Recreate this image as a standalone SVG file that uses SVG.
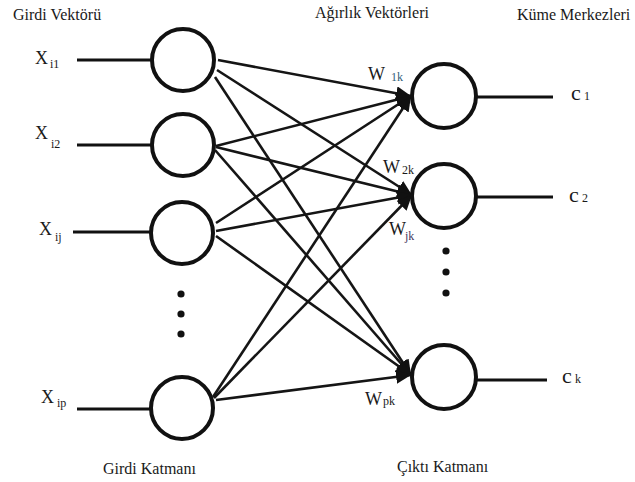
<svg xmlns="http://www.w3.org/2000/svg" width="635" height="482" viewBox="0 0 635 482">
  <style>
    text { font-family: 'Liberation Serif', 'DejaVu Serif', 'Times New Roman', serif; fill: #1a1a1a; }
    .title { font-size: 16px; }
    .big { font-size: 18px; }
    .sub { font-size: 12px; }
    .c { font-size: 22px; }
    .neuron { fill: #ffffff; stroke: #111111; stroke-width: 4; }
    .lead { stroke: #111111; stroke-width: 3; fill: none; }
    .edge { stroke: #151515; stroke-width: 2.6; fill: none; marker-end: url(#arrow); }
    .dot { fill: #111111; }
  </style>
  <defs>
    <marker id="arrow" markerUnits="userSpaceOnUse" markerWidth="16" markerHeight="14" refX="15" refY="7" orient="auto">
      <path d="M0,0 L15,7 L0,14 z" fill="#111111"/>
    </marker>
  </defs>

  <rect width="635" height="482" fill="#ffffff"/>

  <g font-family="Liberation Serif, DejaVu Serif, serif">
  <!-- layer captions -->
  <text class="title" x="13" y="20">Girdi Vektörü</text>
  <text class="title" x="315" y="18">Ağırlık Vektörleri</text>
  <text class="title" x="517" y="20">Küme Merkezleri</text>
  <text class="title" x="103" y="474">Girdi Katmanı</text>
  <text class="title" x="397" y="472">Çıktı Katmanı</text>

  <!-- weighted connections, input layer to output layer -->
  <g id="connectors">
    <line class="edge" x1="218" y1="60" x2="411" y2="96"/>
    <line class="edge" x1="217" y1="70" x2="412" y2="195"/>
    <line class="edge" x1="215" y1="77" x2="411" y2="375"/>

    <line class="edge" x1="216" y1="146" x2="411" y2="96"/>
    <line class="edge" x1="216" y1="147" x2="412" y2="195"/>
    <line class="edge" x1="215" y1="150" x2="411" y2="375"/>

    <line class="edge" x1="216" y1="223" x2="411" y2="96"/>
    <line class="edge" x1="216" y1="231" x2="412" y2="195"/>
    <line class="edge" x1="216" y1="236" x2="411" y2="375"/>

    <line class="edge" x1="213" y1="397" x2="411" y2="96"/>
    <line class="edge" x1="214" y1="398" x2="412" y2="195"/>
    <line class="edge" x1="216" y1="400" x2="411" y2="375"/>
  </g>

  <!-- input nodes -->
  <g id="in1">
    <line class="lead" x1="77" y1="60" x2="152" y2="60"/>
    <circle class="neuron" cx="183" cy="60" r="31"/>
    <text class="big" x="35" y="64">X</text><text class="sub" x="50" y="68">i1</text>
  </g>
  <g id="in2">
    <line class="lead" x1="77" y1="145" x2="152" y2="145"/>
    <circle class="neuron" cx="183" cy="145" r="31"/>
    <text class="big" x="35" y="139">X</text><text class="sub" x="51" y="148">i2</text>
  </g>
  <g id="in3">
    <line class="lead" x1="73" y1="232" x2="151" y2="232"/>
    <circle class="neuron" cx="182" cy="233" r="31"/>
    <text class="big" x="39" y="235">X</text><text class="sub" x="55" y="241">ij</text>
  </g>
  <g id="in-ellipsis">
    <circle class="dot" cx="181" cy="294" r="3.6"/>
    <circle class="dot" cx="181" cy="314" r="3.6"/>
    <circle class="dot" cx="181" cy="334" r="3.6"/>
  </g>
  <g id="in4">
    <line class="lead" x1="77" y1="409" x2="151" y2="409"/>
    <circle class="neuron" cx="182" cy="408" r="31"/>
    <text class="big" x="41" y="403">X</text><text class="sub" x="57" y="407">ip</text>
  </g>

  <!-- output nodes -->
  <g id="out1">
    <line class="lead" x1="476" y1="97" x2="553" y2="97"/>
    <circle class="neuron" cx="444" cy="96" r="32"/>
    <text class="c" x="571" y="100">c</text><text class="sub" x="584" y="100">1</text>
    <text class="big" x="368" y="80">W</text><text class="sub" x="391" y="81" style="fill:#33607a">1k</text>
  </g>
  <g id="out2">
    <line class="lead" x1="476" y1="197" x2="553" y2="197"/>
    <circle class="neuron" cx="444" cy="196" r="32"/>
    <text class="c" x="569" y="202">c</text><text class="sub" x="582" y="202">2</text>
    <text class="big" x="383" y="173">W</text><text class="sub" x="402" y="174">2k</text>
    <text class="big" x="389" y="235">W</text><text class="sub" x="405" y="240" style="fill:#45365e">jk</text>
  </g>
  <g id="out-ellipsis">
    <circle class="dot" cx="446" cy="251" r="3.6"/>
    <circle class="dot" cx="446" cy="272" r="3.6"/>
    <circle class="dot" cx="446" cy="293" r="3.6"/>
  </g>
  <g id="out3">
    <line class="lead" x1="476" y1="380" x2="547" y2="380"/>
    <circle class="neuron" cx="444" cy="377" r="32"/>
    <text class="c" x="562" y="383">c</text><text class="sub" x="575" y="383">k</text>
    <text class="big" x="365" y="405">W</text><text class="sub" x="383" y="405">pk</text>
  </g>
  </g>
</svg>
